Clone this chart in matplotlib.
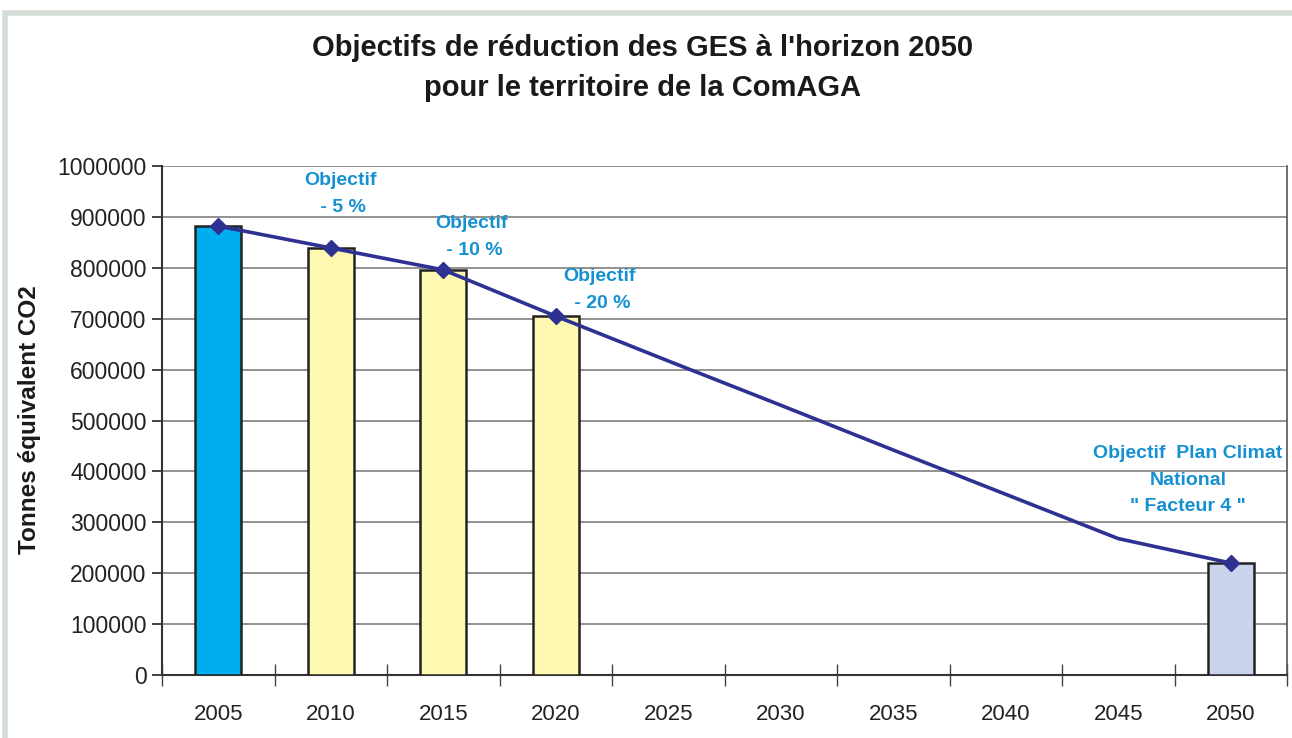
import numpy as np
import matplotlib
matplotlib.use("Agg")
import matplotlib.pyplot as plt
from matplotlib.patches import Rectangle

plt.rcParams['font.family'] = ['Liberation Sans', 'DejaVu Sans']

# data
years = ['2005', '2010', '2015', '2020', '2025', '2030', '2035', '2040', '2045', '2050']
bar_years = ['2005', '2010', '2015', '2020', '2050']
bar_values = [882000, 839000, 796000, 705000, 220000]
bar_colors = ['#00AEEF', '#FFF8B0', '#FFF8B0', '#FFF8B0', '#C8D4EC']
trend = [882000, 839000, 796000, 705000, 617000, 530000, 442000, 355000, 268000, 220000]
marker_years = ['2005', '2010', '2015', '2020', '2050']

notes = ['Objectif\n - 5 %', 'Objectif\n - 10 %', 'Objectif\n - 20 %',
         'Objectif  Plan Climat\nNational\n" Facteur 4 "']
note_pos = [(1.09, 945000), (2.25, 860000), (3.39, 756000), (8.62, 383000)]

blue_txt = '#1591D2'
navy = '#2E3192'

fig = plt.figure(figsize=(12.92, 7.38), dpi=100)
# light frame around the chart area (cropped at right/bottom)
fig.patches.append(Rectangle((5 / 1292, -0.1), 1.2, 0.1 + (738 - 13) / 738,
                             transform=fig.transFigure, fill=False,
                             edgecolor='#D3DED6', lw=4, zorder=0))

ax = fig.add_axes([162 / 1292, 63 / 738, (1287 - 162) / 1292, (675 - 166) / 738])

x = np.arange(len(years))
bx = [years.index(y) for y in bar_years]
ax.bar(bx, bar_values, width=0.41, color=bar_colors, edgecolor='#222222',
       linewidth=1.8, zorder=3)
mk = [years.index(y) for y in marker_years]
ax.plot(x, trend, color=navy, lw=2.6, marker='D', markersize=8,
        markevery=mk, zorder=4)

for t, (px, py) in zip(notes, note_pos):
    ax.text(px, py, t, color=blue_txt, fontsize=14, fontweight='bold',
            ha='center', va='center', linespacing=1.75, zorder=5, clip_on=False)

ax.set_xlim(-0.5, 9.5)
ax.set_ylim(0, 1000000)
ax.set_yticks(np.arange(0, 1000001, 100000))
ax.set_yticklabels([str(v) for v in range(0, 1000001, 100000)])
ax.yaxis.grid(True, color='#7F7F7F', lw=1.2, zorder=0)
ax.set_axisbelow(True)

ax.set_xticks(x)
ax.set_xticklabels(years)
ax.set_xticks(np.arange(-0.5, 10, 1), minor=True)
ax.tick_params(axis='x', which='major', length=0, pad=21, labelsize=16, colors='#222222')
ax.tick_params(axis='x', which='minor', length=16, direction='inout', width=1, color='#444444')
ax.tick_params(axis='y', length=7, width=1.2, labelsize=16.5, pad=4, colors='#222222')

for s in ['left', 'bottom']:
    ax.spines[s].set_color('#333333')
    ax.spines[s].set_linewidth(1.5)
ax.spines['top'].set_visible(False)
ax.spines['right'].set_color('#555555')
ax.spines['right'].set_linewidth(1.2)

fig.text(0.497, 1 - 48 / 738, "Objectifs de réduction des GES à l'horizon 2050",
         ha='center', va='center', fontsize=21, fontweight='bold', color='#1a1a1a')
fig.text(0.497, 1 - 88 / 738, "pour le territoire de la ComAGA",
         ha='center', va='center', fontsize=21, fontweight='bold', color='#1a1a1a')
fig.text(30 / 1292, 1 - 420 / 738, 'Tonnes équivalent CO2', rotation=90,
         ha='center', va='center', fontsize=17.5, fontweight='bold', color='#1a1a1a')

fig.savefig('out.png', dpi=100, facecolor='white')
